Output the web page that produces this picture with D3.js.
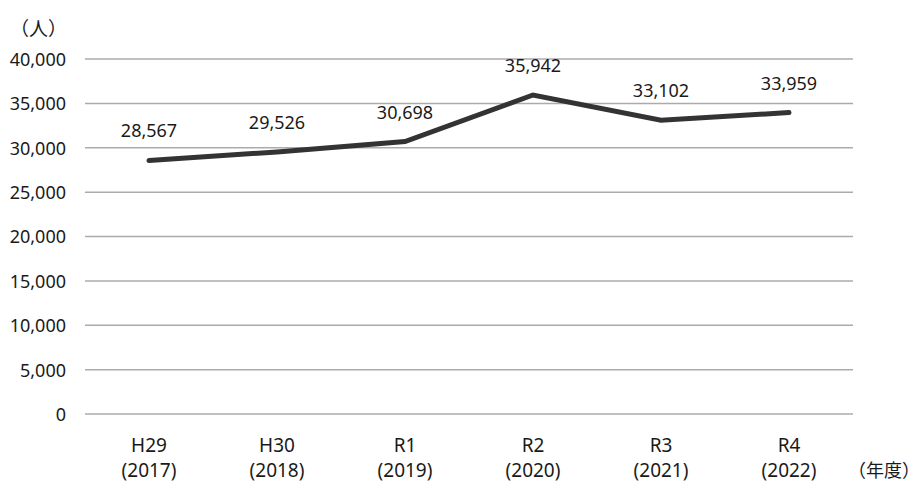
<!DOCTYPE html>
<html>
<head>
<meta charset="utf-8">
<script src="https://cdn.jsdelivr.net/npm/d3@7"></script>
<style>
  html, body { margin: 0; padding: 0; background: #fff; }
  svg text { font-family: "Noto Sans", "Noto Sans CJK JP", sans-serif; fill: #1a1a1a; }
</style>
</head>
<body>
<svg id="chart" width="920" height="483"></svg>
<script>
// Annual counts (persons) by fiscal year
const eraLabels = ["H29", "H30", "R1", "R2", "R3", "R4"];
const yearLabels = ["(2017)", "(2018)", "(2019)", "(2020)", "(2021)", "(2022)"];
const persons = [28567, 29526, 30698, 35942, 33102, 33959];
const yTicks = [0, 5000, 10000, 15000, 20000, 25000, 30000, 35000, 40000];

const svg = d3.select("#chart");
const margin = { left: 85, right: 67, top: 59, bottom: 69 };
const W = 920, H = 483;

const x = d3.scaleBand()
  .domain(eraLabels)
  .range([margin.left, W - margin.right]);

const y = d3.scaleLinear()
  .domain([0, 40000])
  .range([H - margin.bottom, margin.top]);

const fmt = d3.format(",");

// Horizontal gridlines
svg.append("g")
  .selectAll("line")
  .data(yTicks)
  .join("line")
  .attr("x1", margin.left)
  .attr("x2", W - margin.right)
  .attr("y1", d => y(d))
  .attr("y2", d => y(d))
  .attr("stroke", "#ababab")
  .attr("stroke-width", 1.5);

// Y axis labels
const yAxis = d3.axisLeft(y).tickValues(yTicks).tickFormat(fmt).tickSize(0).tickPadding(19);
const gy = svg.append("g").attr("transform", `translate(${margin.left},0)`).call(yAxis);
gy.select(".domain").remove();
gy.selectAll("text")
  .attr("font-size", 18)
  .attr("dy", "0.36em")
  .style("font-family", "\"Noto Sans\", sans-serif")
  .attr("fill", "#1a1a1a");

// Category labels (two lines)
const cats = svg.append("g");
eraLabels.forEach((lab, i) => {
  const cx = x(lab) + x.bandwidth() / 2;
  cats.append("text").attr("x", cx).attr("y", 452).attr("text-anchor", "middle")
    .attr("font-size", 19).text(lab);
  cats.append("text").attr("x", cx).attr("y", 477).attr("text-anchor", "middle")
    .attr("font-size", 19).text(yearLabels[i]);
});

// Unit labels
svg.append("text").attr("x", 10).attr("y", 36).attr("font-size", 19)
  .style("font-family", "\"Noto Sans CJK JP\", sans-serif").text("（人）");
svg.append("text").attr("x", 848).attr("y", 477).attr("font-size", 18)
  .style("font-family", "\"Noto Sans CJK JP\", sans-serif").text("（年度）");

// Series line
const line = d3.line()
  .x((d, i) => x(eraLabels[i]) + x.bandwidth() / 2)
  .y(d => y(d));

svg.append("path")
  .datum(persons)
  .attr("d", line)
  .attr("fill", "none")
  .attr("stroke", "#333333")
  .attr("stroke-width", 5)
  .attr("stroke-linejoin", "miter")
  .attr("stroke-linecap", "round");

// Value labels
svg.append("g")
  .selectAll("text")
  .data(persons)
  .join("text")
  .attr("x", (d, i) => x(eraLabels[i]) + x.bandwidth() / 2)
  .attr("y", d => y(d) - 23)
  .attr("text-anchor", "middle")
  .attr("font-size", 18)
  .text(d => fmt(d));
</script>
</body>
</html>
